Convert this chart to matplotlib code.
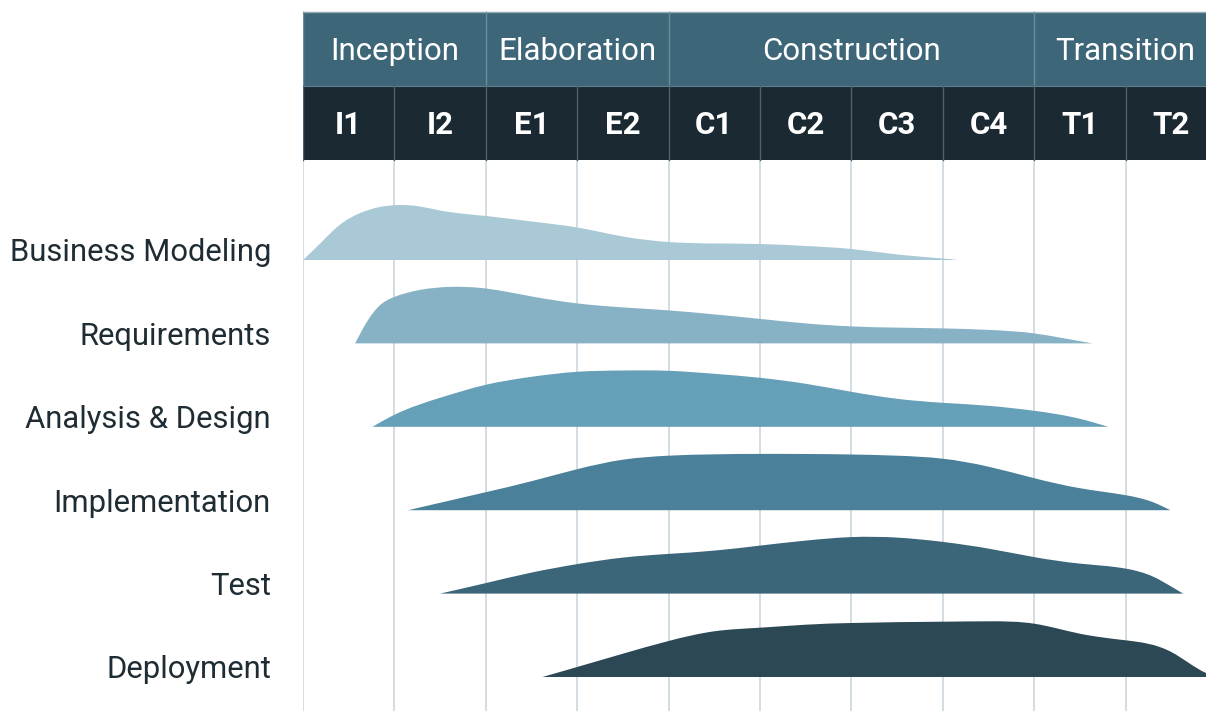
import matplotlib
matplotlib.use("Agg")
import matplotlib.pyplot as plt
from matplotlib.path import Path
from matplotlib.patches import PathPatch
import numpy as np

# ---------------- data ----------------
phases = ["Inception", "Elaboration", "Construction", "Transition"]
phase_spans = [(0, 2), (2, 4), (4, 8), (8, 10)]
iterations = ["I1", "I2", "E1", "E2", "C1", "C2", "C3", "C4", "T1", "T2"]
disciplines = ["Business Modeling", "Requirements", "Analysis & Design",
               "Implementation", "Test", "Deployment"]

# effort curves: position (iteration units) and relative effort
bm_x = [0.0, 0.19, 0.4, 0.62, 0.84, 1.06, 1.28, 1.5, 2.0, 2.5, 3.0, 3.5, 4.0, 4.5, 5.0, 5.5, 6.0, 6.5, 7.0, 7.17]
bm_y = [0, 16.7, 35, 46.7, 53, 55, 53.5, 49.5, 44, 38.5, 32.5, 23.5, 18, 16.5, 16, 14, 11, 5.5, 1.5, 0]

req_x = [0.57, 0.70, 0.84, 1.0, 1.28, 1.61, 1.94, 2.5, 3.0, 3.5, 4.0, 4.5, 5.0, 5.5, 6.0, 7.0, 7.5, 8.0, 8.3, 8.64]
req_y = [0, 21.7, 38, 46.5, 53.5, 56.5, 55.5, 47, 40, 36, 33, 29, 24.5, 20, 17, 15, 13.5, 10, 5.5, 0]

ad_x = [0.76, 1.0, 1.5, 2.0, 2.5, 3.0, 3.5, 4.0, 4.5, 5.0, 5.5, 6.0, 6.5, 7.0, 7.5, 8.0, 8.5, 8.81]
ad_y = [0, 12, 29, 42, 50, 55, 56.3, 56, 53, 49, 43, 35, 28, 24, 21, 16, 8, 0]

imp_x = [1.15, 2.0, 2.5, 3.0, 3.5, 4.0, 5.0, 6.0, 6.5, 7.0, 7.5, 8.0, 8.5, 9.0, 9.3, 9.49]
imp_y = [0, 18, 29, 41, 50.5, 54.5, 56.3, 55.7, 54.5, 51.5, 43.5, 32, 22, 15, 8, 0]

test_x = [1.5, 2.0, 2.5, 3.0, 3.5, 4.0, 4.5, 5.0, 5.5, 6.0, 6.5, 7.0, 7.5, 8.0, 8.5, 9.0, 9.3, 9.5, 9.63]
test_y = [0, 10.5, 21, 29.5, 36, 39.7, 43, 48, 53, 56.5, 56, 51.7, 45, 36.5, 30, 25, 17, 7, 0]

dep_x = [2.62, 3.0, 3.5, 4.0, 4.5, 5.0, 5.5, 6.0, 7.0, 7.5, 8.0, 8.5, 9.0, 9.5, 9.88, 10.0]
dep_y = [0, 10, 23.3, 36, 45.7, 49.3, 52.3, 54, 55.3, 55.7, 53.3, 43.3, 36.7, 25, 4, 0]

curves = [(bm_x, bm_y), (req_x, req_y), (ad_x, ad_y),
          (imp_x, imp_y), (test_x, test_y), (dep_x, dep_y)]
colors = ["#a8c9d5", "#87b2c5", "#659fb8", "#4a8099", "#3b6578", "#2c4855"]

# ---------------- layout ----------------
W, H = 1206, 711
fig = plt.figure(figsize=(W / 100, H / 100), dpi=100)
fig.patch.set_facecolor("white")
left_px = 303
col_w = 91.4
ax = fig.add_axes([left_px / W, 0, 1 - left_px / W, 1])
ax.set_xlim(0, (W - left_px) / col_w)
ax.set_ylim(H, 0)   # vertical units, top at 0
ax.axis("off")

FONT = "Roboto"
hdr_top, hdr_mid, hdr_bot = 12, 86, 160
row0, row_gap = 260, 83.4

# header backgrounds
ax.fill_between([0, 10], hdr_top, hdr_mid, color="#3d6678", lw=0, zorder=1)
ax.fill_between([0, 10], hdr_mid, hdr_bot, color="#1b2a32", lw=0, zorder=1)
ax.plot([0, 10], [hdr_top, hdr_top], color="#8fa9b5", lw=1, zorder=2)
ax.plot([0, 10], [hdr_mid, hdr_mid], color="#5f7f8e", lw=0.8, zorder=2)

# phase separators and labels
for (a, b), name in zip(phase_spans, phases):
    ax.plot([a, a], [hdr_top, hdr_mid], color="#6b8d9c", lw=1, zorder=2)
    ax.text((a + b) / 2, (hdr_top + hdr_mid) / 2 + 2.5, name, color="white",
            fontsize=22.5, family=FONT, ha="center", va="center", zorder=3)

# iteration separators and labels
for i, name in enumerate(iterations):
    ax.plot([i, i], [hdr_mid, hdr_bot], color="#4e626c", lw=1, zorder=2)
    ax.text(i + 0.5, (hdr_mid + hdr_bot) / 2 + 2.5, name, color="white",
            fontsize=22.5, family=FONT, weight="bold", ha="center", va="center", zorder=3)

# body grid
for i in range(10):
    ax.plot([i, i], [hdr_bot, H], color="#cfdadf", lw=1.3, zorder=0)


def spline_tangents(x, y):
    """End tangents of each segment of a natural cubic spline (C2)."""
    n = len(x)
    h = np.diff(x)
    d = np.diff(y) / h
    A = np.zeros((n, n))
    b = np.zeros(n)
    A[0, 0] = A[-1, -1] = 1.0
    for k in range(1, n - 1):
        A[k, k - 1] = h[k - 1]
        A[k, k] = 2 * (h[k - 1] + h[k])
        A[k, k + 1] = h[k]
        b[k] = 6 * (d[k] - d[k - 1])
    M = np.linalg.solve(A, b)
    m_start = d - h * (2 * M[:-1] + M[1:]) / 6
    m_end = d + h * (M[:-1] + 2 * M[1:]) / 6
    return m_start, m_end


def smooth_path(xs, ys, base):
    x = np.asarray(xs, float)
    y = np.asarray(ys, float)
    ms, me = spline_tangents(x, y)
    verts = [(x[0], base - y[0])]
    codes = [Path.MOVETO]
    for k in range(len(x) - 1):
        dx = x[k + 1] - x[k]
        c1 = (x[k] + dx / 3, min(base - (y[k] + ms[k] * dx / 3), base))
        c2 = (x[k + 1] - dx / 3, min(base - (y[k + 1] - me[k] * dx / 3), base))
        verts += [c1, c2, (x[k + 1], base - y[k + 1])]
        codes += [Path.CURVE4] * 3
    verts.append((x[0], base))
    codes.append(Path.LINETO)
    verts.append((x[0], base))
    codes.append(Path.CLOSEPOLY)
    return Path(verts, codes)


for r, ((xs, ys), col, name) in enumerate(zip(curves, colors, disciplines)):
    base = row0 + r * row_gap
    patch = PathPatch(smooth_path(xs, ys, base), facecolor=col, edgecolor="none",
                      zorder=2)
    ax.add_patch(patch)
    fig.text(271 / W, 1 - (base - 7) / H, name, fontsize=22.3, family=FONT,
             color="#1f2c33", ha="right", va="center")

fig.savefig("out.png", dpi=100, facecolor="white")
